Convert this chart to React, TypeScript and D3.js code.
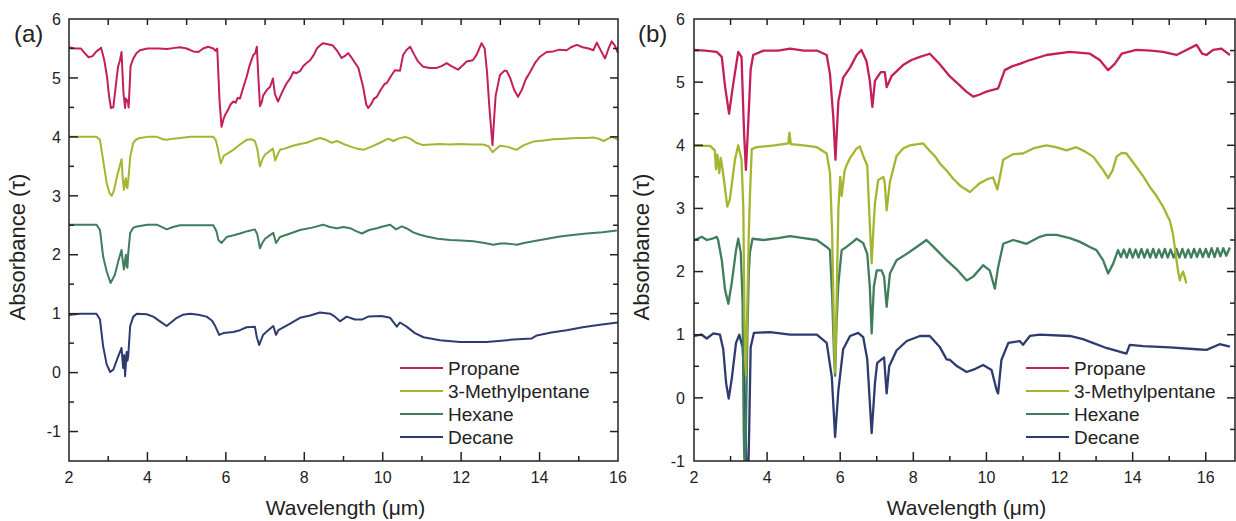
import { useEffect, useRef } from 'react';
import * as d3 from 'd3';

type Pt = [number, number];

// ---- panel (a) spectra ----
const propaneA: Pt[] = [[2.0,5.52],[2.15,5.5],[2.3,5.5],[2.4,5.42],[2.5,5.35],[2.6,5.37],[2.7,5.45],[2.82,5.51],[2.9,5.3],[2.97,5.02],[3.02,4.7],[3.07,4.49],[3.13,4.5],[3.19,4.85],[3.25,5.19],[3.3,5.3],[3.34,5.44],[3.37,5.0],[3.39,4.74],[3.43,4.49],[3.45,4.65],[3.48,4.6],[3.5,4.62],[3.52,4.5],[3.55,4.9],[3.57,5.2],[3.64,5.33],[3.72,5.42],[3.81,5.47],[4.0,5.5],[4.15,5.5],[4.3,5.5],[4.5,5.49],[4.7,5.51],[4.83,5.52],[5.0,5.5],[5.17,5.45],[5.3,5.44],[5.42,5.5],[5.55,5.53],[5.68,5.5],[5.74,5.46],[5.78,5.5],[5.8,5.2],[5.84,4.6],[5.89,4.17],[5.94,4.3],[5.98,4.37],[6.05,4.45],[6.12,4.55],[6.19,4.6],[6.25,4.58],[6.3,4.66],[6.36,4.65],[6.45,4.85],[6.53,5.02],[6.6,5.2],[6.7,5.39],[6.75,5.42],[6.79,5.53],[6.83,5.0],[6.87,4.52],[6.92,4.6],[6.95,4.7],[7.05,4.8],[7.13,4.85],[7.2,4.99],[7.25,4.73],[7.33,4.6],[7.45,4.78],[7.55,4.91],[7.65,5.0],[7.72,5.1],[7.8,5.08],[7.9,5.12],[7.97,5.2],[8.05,5.25],[8.15,5.3],[8.25,5.4],[8.32,5.5],[8.4,5.55],[8.48,5.59],[8.6,5.57],[8.73,5.55],[8.85,5.45],[8.95,5.34],[9.05,5.38],[9.12,5.42],[9.2,5.35],[9.3,5.25],[9.38,5.17],[9.5,4.85],[9.58,4.55],[9.63,4.49],[9.7,4.55],[9.78,4.65],[9.85,4.68],[9.95,4.8],[10.05,4.9],[10.1,4.91],[10.2,5.02],[10.31,5.13],[10.44,5.12],[10.52,5.39],[10.6,5.47],[10.7,5.53],[10.8,5.4],[10.9,5.28],[11.03,5.19],[11.2,5.17],[11.38,5.17],[11.5,5.2],[11.63,5.25],[11.75,5.2],[11.92,5.14],[12.05,5.22],[12.14,5.28],[12.3,5.3],[12.4,5.4],[12.52,5.59],[12.6,5.5],[12.66,5.1],[12.72,4.5],[12.8,3.86],[12.84,4.3],[12.88,4.7],[12.99,5.05],[13.1,5.12],[13.16,5.12],[13.25,5.0],[13.35,4.8],[13.45,4.68],[13.55,4.8],[13.65,4.98],[13.76,5.1],[13.88,5.25],[14.01,5.36],[14.18,5.44],[14.35,5.45],[14.5,5.48],[14.69,5.47],[14.8,5.52],[14.95,5.56],[15.1,5.52],[15.25,5.5],[15.37,5.47],[15.46,5.6],[15.55,5.48],[15.67,5.33],[15.76,5.5],[15.84,5.62],[15.92,5.55],[16.0,5.42]];

const metpentA: Pt[] = [[2.0,4.0],[2.3,4.0],[2.5,4.0],[2.7,4.0],[2.79,3.95],[2.87,3.61],[2.96,3.22],[3.03,3.05],[3.09,3.0],[3.15,3.1],[3.22,3.32],[3.3,3.52],[3.34,3.62],[3.37,3.3],[3.4,3.1],[3.43,3.25],[3.45,3.3],[3.47,3.15],[3.49,3.13],[3.53,3.4],[3.56,3.66],[3.64,3.9],[3.72,3.96],[3.81,3.98],[4.0,4.0],[4.24,4.0],[4.4,3.96],[4.49,3.95],[4.65,3.97],[4.83,3.98],[5.1,4.0],[5.34,4.0],[5.68,4.0],[5.74,3.95],[5.78,3.85],[5.87,3.55],[5.95,3.68],[6.05,3.72],[6.19,3.78],[6.36,3.87],[6.53,3.95],[6.65,3.96],[6.74,3.93],[6.8,3.8],[6.87,3.5],[6.93,3.62],[7.0,3.7],[7.1,3.75],[7.2,3.8],[7.26,3.6],[7.32,3.7],[7.38,3.78],[7.5,3.8],[7.71,3.85],[7.89,3.88],[8.06,3.9],[8.25,3.95],[8.4,3.98],[8.55,3.95],[8.7,3.9],[8.83,3.93],[9.0,3.88],[9.2,3.83],[9.35,3.8],[9.51,3.78],[9.7,3.83],[9.93,3.9],[10.14,3.97],[10.27,3.93],[10.4,3.97],[10.57,4.0],[10.7,3.97],[10.85,3.9],[11.03,3.86],[11.25,3.87],[11.46,3.88],[11.7,3.87],[11.97,3.88],[12.3,3.87],[12.56,3.87],[12.7,3.84],[12.8,3.74],[12.9,3.8],[12.99,3.85],[13.2,3.83],[13.41,3.78],[13.6,3.86],[13.84,3.92],[14.1,3.94],[14.35,3.96],[14.65,3.97],[14.95,3.98],[15.2,3.98],[15.37,3.99],[15.5,3.97],[15.63,3.93],[15.75,3.97],[15.84,4.0],[15.92,3.98],[16.0,3.95]];

const hexaneA: Pt[] = [[2.0,2.5],[2.03,2.51],[2.4,2.51],[2.7,2.51],[2.79,2.42],[2.87,1.97],[2.96,1.72],[3.06,1.52],[3.17,1.66],[3.26,1.9],[3.34,2.08],[3.37,1.9],[3.4,1.75],[3.45,2.0],[3.47,1.8],[3.49,1.78],[3.51,2.02],[3.56,2.37],[3.64,2.46],[3.73,2.48],[4.0,2.51],[4.24,2.51],[4.4,2.46],[4.49,2.43],[4.65,2.47],[4.83,2.5],[5.3,2.5],[5.68,2.5],[5.76,2.4],[5.81,2.25],[5.89,2.2],[6.02,2.3],[6.2,2.33],[6.36,2.36],[6.55,2.4],[6.74,2.43],[6.8,2.35],[6.87,2.11],[6.93,2.2],[7.0,2.27],[7.1,2.32],[7.21,2.37],[7.28,2.2],[7.38,2.3],[7.64,2.36],[7.89,2.42],[8.2,2.46],[8.48,2.51],[8.65,2.47],[8.83,2.45],[9.0,2.47],[9.17,2.45],[9.32,2.4],[9.47,2.36],[9.65,2.42],[9.85,2.45],[10.0,2.48],[10.19,2.51],[10.34,2.43],[10.49,2.48],[10.6,2.45],[10.78,2.38],[10.95,2.34],[11.12,2.31],[11.4,2.27],[11.72,2.25],[12.0,2.24],[12.31,2.23],[12.6,2.2],[12.82,2.17],[13.0,2.19],[13.16,2.19],[13.3,2.18],[13.42,2.17],[13.6,2.2],[13.84,2.23],[14.2,2.27],[14.52,2.31],[14.9,2.34],[15.2,2.36],[15.6,2.38],[15.97,2.41]];

const decaneA: Pt[] = [[2.0,0.97],[2.03,0.98],[2.28,1.0],[2.5,1.0],[2.7,1.0],[2.79,0.9],[2.87,0.45],[2.96,0.14],[3.05,0.01],[3.13,0.05],[3.24,0.25],[3.34,0.42],[3.38,0.08],[3.41,0.3],[3.43,-0.06],[3.47,0.35],[3.49,0.2],[3.51,0.28],[3.56,0.79],[3.64,0.95],[3.73,1.0],[3.98,0.99],[4.15,0.95],[4.32,0.87],[4.49,0.79],[4.6,0.85],[4.75,0.93],[4.9,0.98],[5.09,1.0],[5.3,0.98],[5.51,0.95],[5.65,0.88],[5.72,0.8],[5.83,0.64],[5.94,0.67],[6.19,0.69],[6.36,0.72],[6.53,0.77],[6.74,0.78],[6.79,0.6],[6.85,0.47],[6.95,0.64],[7.05,0.7],[7.21,0.79],[7.28,0.64],[7.34,0.72],[7.64,0.83],[7.89,0.93],[8.15,0.97],[8.4,1.02],[8.66,1.0],[8.78,0.95],[8.91,0.87],[9.08,0.95],[9.29,0.9],[9.47,0.9],[9.63,0.95],[9.97,0.96],[10.19,0.93],[10.36,0.78],[10.44,0.85],[10.61,0.78],[10.82,0.67],[11.04,0.6],[11.46,0.55],[11.97,0.52],[12.65,0.52],[13.33,0.56],[13.8,0.58],[13.93,0.63],[14.3,0.68],[14.69,0.72],[15.1,0.77],[15.54,0.81],[16.0,0.85]];

// ---- panel (b) spectra ----
const propaneB: Pt[] = [[2.0,5.51],[2.3,5.5],[2.62,5.48],[2.76,5.4],[2.85,4.93],[2.96,4.5],[3.07,4.96],[3.21,5.48],[3.3,5.4],[3.37,4.19],[3.42,3.61],[3.48,4.3],[3.55,5.2],[3.62,5.43],[3.9,5.5],[4.3,5.5],[4.63,5.53],[5.0,5.5],[5.36,5.5],[5.63,5.43],[5.72,5.13],[5.81,4.45],[5.87,3.77],[5.95,4.7],[6.08,5.07],[6.27,5.23],[6.45,5.43],[6.58,5.51],[6.72,5.33],[6.81,5.02],[6.88,4.61],[6.95,5.02],[7.11,5.16],[7.22,5.16],[7.27,4.92],[7.41,5.1],[7.72,5.27],[7.95,5.35],[8.18,5.4],[8.45,5.45],[8.7,5.3],[9.0,5.09],[9.27,4.95],[9.45,4.85],[9.64,4.77],[9.8,4.8],[10.0,4.85],[10.2,4.88],[10.32,4.9],[10.5,5.19],[10.7,5.25],[10.91,5.29],[11.19,5.35],[11.64,5.43],[12.28,5.48],[12.83,5.45],[13.1,5.35],[13.33,5.19],[13.51,5.29],[13.7,5.45],[14.1,5.51],[14.5,5.5],[14.83,5.48],[15.2,5.43],[15.47,5.51],[15.75,5.59],[15.9,5.45],[16.02,5.43],[16.2,5.51],[16.43,5.53],[16.66,5.43]];

const metpentB: Pt[] = [[2.0,3.99],[2.44,3.99],[2.57,3.92],[2.6,3.62],[2.64,3.85],[2.69,3.56],[2.73,3.8],[2.76,3.7],[2.82,3.45],[2.91,3.03],[2.98,3.14],[3.12,3.77],[3.21,4.0],[3.3,3.77],[3.35,3.0],[3.38,1.2],[3.42,0.35],[3.46,1.5],[3.5,2.6],[3.53,3.2],[3.58,3.94],[3.71,3.97],[4.2,4.0],[4.58,4.03],[4.61,4.2],[4.65,4.02],[5.0,4.0],[5.36,3.97],[5.63,3.87],[5.72,3.56],[5.78,2.6],[5.83,1.0],[5.86,0.4],[5.9,1.5],[5.95,3.0],[6.0,3.5],[6.04,3.2],[6.08,3.4],[6.12,3.6],[6.17,3.68],[6.27,3.8],[6.45,3.95],[6.54,3.98],[6.63,3.83],[6.74,3.68],[6.79,3.0],[6.86,2.13],[6.92,2.8],[6.95,3.08],[7.04,3.45],[7.18,3.5],[7.22,3.4],[7.27,2.97],[7.36,3.42],[7.54,3.83],[7.72,3.95],[7.91,4.0],[8.27,4.03],[8.45,3.91],[8.6,3.82],[8.73,3.71],[8.91,3.6],[9.09,3.47],[9.3,3.35],[9.55,3.26],[9.82,3.4],[10.05,3.47],[10.18,3.49],[10.3,3.3],[10.46,3.77],[10.73,3.86],[11.0,3.87],[11.28,3.95],[11.64,4.0],[11.9,3.97],[12.19,3.92],[12.46,3.97],[12.7,3.9],[12.92,3.82],[13.19,3.61],[13.33,3.48],[13.45,3.6],[13.56,3.82],[13.7,3.88],[13.83,3.87],[14.1,3.66],[14.3,3.5],[14.47,3.34],[14.65,3.2],[14.83,3.03],[15.02,2.8],[15.1,2.6],[15.15,2.4],[15.2,2.18],[15.24,2.02],[15.29,1.86],[15.34,1.95],[15.38,2.0],[15.43,1.9],[15.47,1.81]];

const hexaneB: Pt[] = [[2.0,2.5],[2.1,2.52],[2.21,2.55],[2.35,2.5],[2.5,2.52],[2.62,2.55],[2.66,2.5],[2.76,2.18],[2.85,1.71],[2.94,1.49],[3.03,1.81],[3.15,2.34],[3.21,2.52],[3.28,2.3],[3.33,1.5],[3.36,-0.5],[3.39,-1.3],[3.42,-0.5],[3.46,1.0],[3.5,2.0],[3.53,2.3],[3.6,2.52],[3.9,2.5],[4.3,2.53],[4.63,2.56],[5.0,2.53],[5.36,2.5],[5.63,2.39],[5.72,2.34],[5.78,1.6],[5.83,0.7],[5.86,0.35],[5.9,1.2],[5.95,1.81],[6.04,2.34],[6.17,2.39],[6.35,2.47],[6.45,2.52],[6.63,2.45],[6.74,2.28],[6.81,1.76],[6.86,1.02],[6.92,1.76],[7.0,2.02],[7.13,2.02],[7.2,1.92],[7.27,1.44],[7.36,1.97],[7.54,2.18],[7.82,2.28],[8.09,2.39],[8.36,2.5],[8.64,2.34],[8.91,2.18],[9.18,2.04],[9.46,1.86],[9.64,1.92],[9.91,2.1],[10.09,2.02],[10.23,1.73],[10.32,2.07],[10.46,2.44],[10.73,2.5],[11.1,2.44],[11.46,2.55],[11.64,2.58],[11.92,2.58],[12.28,2.53],[12.56,2.47],[12.83,2.39],[13.01,2.34],[13.19,2.18],[13.33,1.97],[13.47,2.13],[13.6,2.34],[13.68,2.23],[13.76,2.35],[13.84,2.22],[13.92,2.36],[14.0,2.22],[14.08,2.35],[14.16,2.22],[14.24,2.36],[14.32,2.22],[14.4,2.35],[14.48,2.22],[14.56,2.36],[14.64,2.22],[14.72,2.35],[14.8,2.22],[14.88,2.36],[14.96,2.22],[15.04,2.35],[15.12,2.22],[15.2,2.36],[15.28,2.22],[15.36,2.36],[15.44,2.22],[15.52,2.35],[15.6,2.22],[15.68,2.36],[15.76,2.23],[15.84,2.36],[15.92,2.23],[16.0,2.36],[16.08,2.23],[16.16,2.37],[16.24,2.23],[16.32,2.37],[16.4,2.24],[16.48,2.37],[16.56,2.25],[16.66,2.38]];

const decaneB: Pt[] = [[2.0,0.98],[2.21,1.0],[2.35,0.94],[2.53,1.02],[2.71,1.0],[2.8,0.77],[2.88,0.23],[2.95,-0.01],[3.03,0.29],[3.15,0.87],[3.24,1.0],[3.33,0.8],[3.38,0.2],[3.43,-1.0],[3.47,-1.6],[3.51,-0.5],[3.55,0.8],[3.64,1.03],[4.08,1.04],[4.63,1.0],[5.0,1.0],[5.36,1.0],[5.63,0.87],[5.77,0.33],[5.86,-0.62],[5.95,0.12],[6.08,0.77],[6.27,0.98],[6.49,1.03],[6.63,0.96],[6.74,0.61],[6.86,-0.56],[6.95,0.23],[7.01,0.55],[7.13,0.61],[7.2,0.64],[7.27,0.07],[7.34,0.5],[7.54,0.75],[7.82,0.9],[8.18,0.98],[8.45,0.98],[8.73,0.8],[8.91,0.61],[9.0,0.6],[9.2,0.5],[9.46,0.41],[9.7,0.46],[9.91,0.52],[10.14,0.44],[10.28,0.12],[10.32,0.07],[10.41,0.6],[10.6,0.87],[10.91,0.9],[11.0,0.84],[11.19,0.98],[11.46,1.0],[12.28,0.98],[12.64,0.93],[13.28,0.79],[13.83,0.7],[13.92,0.84],[14.29,0.82],[15.02,0.8],[15.75,0.77],[16.02,0.76],[16.38,0.85],[16.66,0.81]];

const seriesNames = ['Propane', '3-Methylpentane', 'Hexane', 'Decane'];
const seriesColors = ['#c41f5b', '#a6b531', '#3f7d5d', '#2d3b70'];

const W = 1236;
const H = 521;
const FONT = '"Liberation Sans", Arial, sans-serif';
const INK = '#222';

const App = () => {
    const svgRef = useRef<SVGSVGElement | null>(null);

    useEffect(() => {
        const svg = d3.select(svgRef.current);
        svg.selectAll('*').remove();

        const panels = [
            { id: 'a', label: '(a)', x0: 69, x1: 618, y0: 19, y1: 461, xd: [2, 16], yd: [-1.5, 6], labelX: 61, yTitleX: 25, tagX: 14,
              series: [propaneA, metpentA, hexaneA, decaneA], legendX: 400 },
            { id: 'b', label: '(b)', x0: 694, x1: 1235, y0: 19, y1: 461, xd: [2, 16.8], yd: [-1, 6], labelX: 685, yTitleX: 649, tagX: 638,
              series: [propaneB, metpentB, hexaneB, decaneB], legendX: 1026 },
        ];

        panels.forEach(p => {
            const x = d3.scaleLinear().domain(p.xd).range([p.x0, p.x1]);
            const y = d3.scaleLinear().domain(p.yd).range([p.y1, p.y0]);
            const g = svg.append('g');

            g.append('clipPath').attr('id', `clip-${p.id}`)
                .append('rect')
                .attr('x', p.x0).attr('y', p.y0)
                .attr('width', p.x1 - p.x0).attr('height', p.y1 - p.y0);

            // curves, drawn bottom series first
            const line = d3.line<Pt>().x(d => x(d[0])).y(d => y(d[1]));
            const plot = g.append('g').attr('clip-path', `url(#clip-${p.id})`);
            [3, 2, 1, 0].forEach(i => {
                plot.append('path')
                    .attr('d', line(p.series[i]))
                    .attr('fill', 'none')
                    .attr('stroke', seriesColors[i])
                    .attr('stroke-width', p.id === 'a' ? 2 : 2.3)
                    .attr('stroke-linejoin', 'round');
            });

            // frame
            g.append('rect')
                .attr('x', p.x0).attr('y', p.y0)
                .attr('width', p.x1 - p.x0).attr('height', p.y1 - p.y0)
                .attr('fill', 'none').attr('stroke', INK).attr('stroke-width', 1.5);

            // x ticks (bottom + top), all pointing inward
            const xt = d3.range(Math.ceil(p.xd[0]), Math.floor(p.xd[1]) + 1);
            xt.forEach(v => {
                const major = v % 2 === 0;
                const px = x(v);
                if (v > p.xd[0] && v < p.xd[1]) {
                    g.append('line').attr('x1', px).attr('x2', px)
                        .attr('y1', p.y1).attr('y2', p.y1 - (major ? 9 : 5))
                        .attr('stroke', INK).attr('stroke-width', 1.5);
                    g.append('line').attr('x1', px).attr('x2', px)
                        .attr('y1', p.y0).attr('y2', p.y0 + 6)
                        .attr('stroke', INK).attr('stroke-width', 1.5);
                }
                if (major) {
                    g.append('text').attr('x', px).attr('y', 483)
                        .attr('text-anchor', 'middle')
                        .style('font-family', FONT).style('font-size', '16px').attr('fill', INK)
                        .text(v);
                }
            });

            // y ticks (left + right)
            const yt = d3.range(p.yd[0], p.yd[1] + 0.01, 0.5);
            yt.forEach(v => {
                const major = Math.abs(v - Math.round(v)) < 1e-6;
                const py = y(v);
                if (v > p.yd[0] && v < p.yd[1]) {
                    g.append('line').attr('x1', p.x0).attr('x2', p.x0 + (major ? 9 : 5))
                        .attr('y1', py).attr('y2', py)
                        .attr('stroke', INK).attr('stroke-width', 1.5);
                    g.append('line').attr('x1', p.x1).attr('x2', p.x1 - (major ? 8 : 5))
                        .attr('y1', py).attr('y2', py)
                        .attr('stroke', INK).attr('stroke-width', 1.5);
                }
                if (major) {
                    g.append('text').attr('x', p.labelX).attr('y', py).attr('dy', '0.36em')
                        .attr('text-anchor', 'end')
                        .style('font-family', FONT).style('font-size', '16px').attr('fill', INK)
                        .text(Math.round(v));
                }
            });

            // axis titles
            g.append('text')
                .attr('x', (p.x0 + p.x1) / 2 + 2).attr('y', 515)
                .attr('text-anchor', 'middle')
                .style('font-family', FONT).style('font-size', '21px').attr('fill', INK)
                .text('Wavelength (μm)');
            g.append('text')
                .attr('transform', `translate(${p.yTitleX},247) rotate(-90)`)
                .attr('text-anchor', 'middle')
                .style('font-family', FONT).style('font-size', '22px').attr('fill', INK)
                .text('Absorbance (τ)');

            // panel tag
            g.append('text').attr('x', p.tagX).attr('y', 42)
                .style('font-family', FONT).style('font-size', '24px').attr('fill', INK)
                .text(p.label);

            // legend
            seriesNames.forEach((name, i) => {
                const ly = 368 + i * 23;
                g.append('line')
                    .attr('x1', p.legendX).attr('x2', p.legendX + 43)
                    .attr('y1', ly).attr('y2', ly)
                    .attr('stroke', seriesColors[i]).attr('stroke-width', 2);
                g.append('text')
                    .attr('x', p.legendX + 48).attr('y', ly + 6.5)
                    .style('font-family', FONT).style('font-size', '19px').attr('fill', INK)
                    .text(name);
            });
        });
    }, []);

    return (
        <svg
            ref={svgRef}
            width={W}
            height={H}
            style={{ position: 'absolute', left: 0, top: 0, background: '#fff', display: 'block' }}
        />
    );
};

export default App;
